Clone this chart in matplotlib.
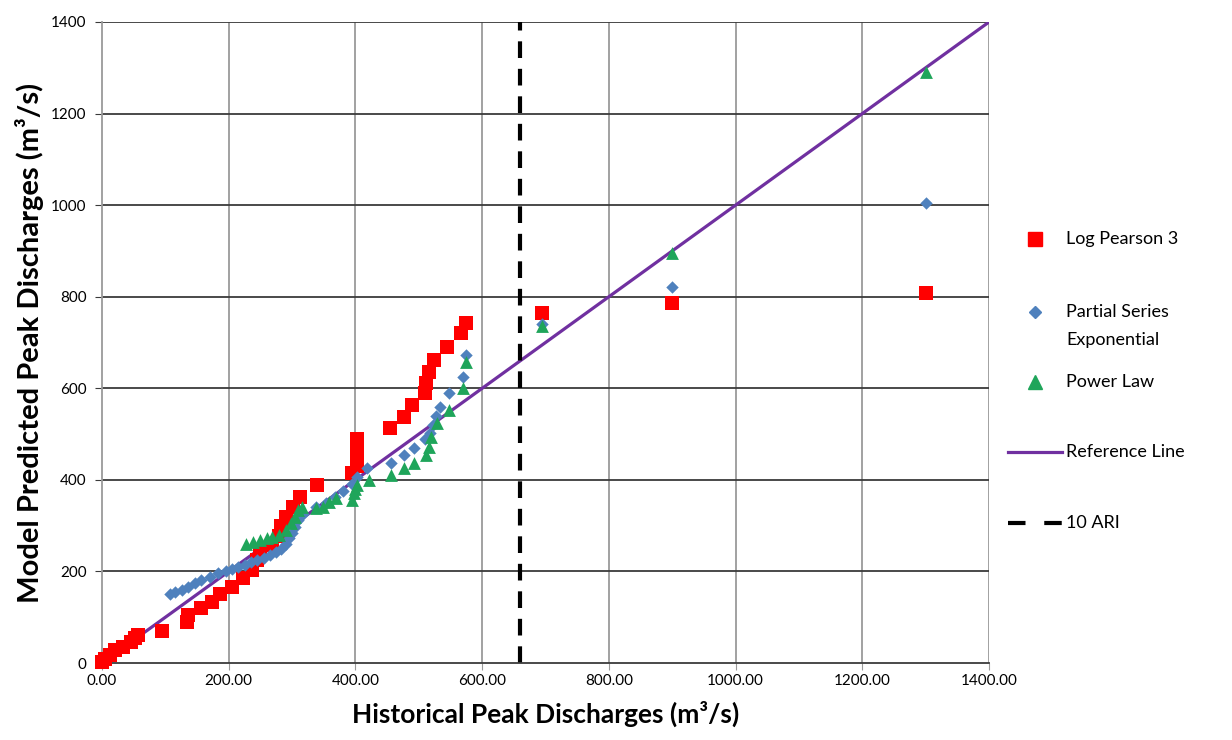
import numpy as np
import matplotlib
matplotlib.use('Agg')
import matplotlib.pyplot as plt
from matplotlib.lines import Line2D

plt.rcParams['font.family'] = ['Lato', 'DejaVu Sans']

# Log Pearson 3
lp3_x = [0, 5, 12, 20, 33, 45, 52, 57, 94, 134, 135, 157, 173, 186, 205, 222, 236, 244, 250, 268,
         280, 283, 290, 301, 312, 340, 394, 402, 402, 402, 402, 454, 477, 490, 509, 512, 516, 524,
         545, 567, 575, 695, 900, 1300]
lp3_y = [2, 8, 18, 28, 35, 45, 55, 62, 70, 90, 105, 120, 133, 150, 166, 185, 203, 225, 240, 258,
         278, 300, 320, 340, 362, 389, 415, 430, 450, 470, 490, 513, 537, 563, 589, 611, 635, 662,
         690, 720, 742, 764, 786, 808]

# Partial Series Exponential
pse_x = [107, 115, 126, 135, 146, 157, 170, 183, 195, 205, 215, 225, 235, 245, 255, 265, 275, 283,
         290, 295, 300, 305, 310, 318, 338, 354, 367, 380, 395, 403, 419, 456, 477, 493, 510, 517,
         522, 527, 533, 548, 569, 575, 695, 900, 1300]
pse_y = [150, 155, 159, 166, 175, 181, 188, 196, 200, 205, 210, 215, 220, 225, 230, 236, 242, 248,
         260, 272, 285, 298, 312, 325, 341, 349, 363, 375, 392, 406, 425, 437, 454, 470, 490, 502,
         520, 540, 559, 589, 624, 672, 740, 821, 1004]

# Power Law
pl_x = [228, 238, 249, 260, 269, 280, 291, 299, 304, 309, 315, 338, 348, 359, 370, 395, 398, 400,
        403, 422, 456, 477, 493, 512, 516, 520, 529, 548, 569, 575, 695, 900, 1300]
pl_y = [260, 264, 268, 272, 275, 279, 290, 306, 319, 334, 341, 338, 341, 351, 360, 356, 371, 380,
        389, 400, 410, 426, 437, 454, 472, 493, 524, 552, 600, 657, 736, 895, 1290]

ref_x = [0, 1400]
ref_y = [0, 1400]
ari_x = 660

W, H = 1232, 740
fig = plt.figure(figsize=(W / 100, H / 100), dpi=100)
ax = fig.add_axes([0.0828, 0.104, 0.72, 0.8663])

ax.set_xlim(0, 1400)
ax.set_ylim(0, 1400)
ax.set_xticks(np.arange(0, 1401, 200))
ax.set_yticks(np.arange(0, 1401, 200))
ax.set_xticklabels([f'{v:.2f}' for v in np.arange(0, 1401, 200)], fontsize=11)
ax.set_yticklabels([f'{v}' for v in np.arange(0, 1401, 200)], fontsize=11)

# 网格线
for v in np.arange(200, 1401, 200):
    ax.axvline(v, color='#9a9a9a', lw=1.3, zorder=0)
for v in np.arange(200, 1401, 200):
    ax.axhline(v, color='#3a3a3a', lw=1.3, zorder=0)
for s in ['top', 'right']:
    ax.spines[s].set_visible(False)
ax.spines['left'].set_color('#9a9a9a')
ax.spines['left'].set_linewidth(1.3)
ax.spines['bottom'].set_color('#3a3a3a')
ax.spines['bottom'].set_linewidth(1.3)
ax.tick_params(axis='x', direction='out', length=5, color='#9a9a9a', pad=3)
ax.tick_params(axis='y', direction='out', length=5, color='#3a3a3a', pad=6)

ax.plot(ref_x, ref_y, color='#7030A0', lw=2.3, zorder=2)
ax.axvline(ari_x, color='black', lw=3, dashes=(4, 2.6), zorder=2)

ax.scatter(lp3_x, lp3_y, marker='s', s=95, color='#FF0000', linewidths=0, zorder=3, clip_on=False)
ax.scatter(pse_x, pse_y, marker='D', s=40, color='#4F81BD', linewidths=0, zorder=4, clip_on=False)
ax.scatter(pl_x, pl_y, marker='^', s=85, color='#1FA55A', linewidths=0, zorder=5, clip_on=False)

ax.set_xlabel('Historical Peak Discharges (m³/s)', fontsize=19, fontweight='bold', labelpad=9)
ax.set_ylabel('Model Predicted Peak Discharges (m³/s)', fontsize=21, fontweight='bold', labelpad=5)

# 图例 (手动放置, 像素坐标)
def fx(px):
    return px / W

def fy(py):
    return 1 - py / H

mk_x = 1035
line_x0, line_x1 = 1008, 1062
txt_x = 1066
fs = 13

fig.add_artist(Line2D([fx(mk_x)], [fy(239)], ls='none', marker='s', ms=10, color='#FF0000'))
fig.text(fx(txt_x), fy(239), 'Log Pearson 3', fontsize=fs, va='center')

fig.add_artist(Line2D([fx(mk_x)], [fy(312)], ls='none', marker='D', ms=6, color='#4F81BD'))
fig.text(fx(txt_x), fy(312), 'Partial Series', fontsize=fs, va='center')
fig.text(fx(txt_x), fy(340), 'Exponential', fontsize=fs, va='center')

fig.add_artist(Line2D([fx(mk_x)], [fy(382)], ls='none', marker='^', ms=10, color='#1FA55A'))
fig.text(fx(txt_x), fy(382), 'Power Law', fontsize=fs, va='center')

fig.add_artist(Line2D([fx(line_x0), fx(line_x1)], [fy(452), fy(452)], color='#7030A0', lw=2.3))
fig.text(fx(txt_x), fy(452), 'Reference Line', fontsize=fs, va='center')

fig.add_artist(Line2D([fx(line_x0), fx(line_x1)], [fy(523), fy(523)], color='black', lw=3,
                      dashes=(4.2, 4.5)))
fig.text(fx(txt_x), fy(523), '10 ARI', fontsize=fs, va='center')

fig.savefig('out.png', dpi=100)
